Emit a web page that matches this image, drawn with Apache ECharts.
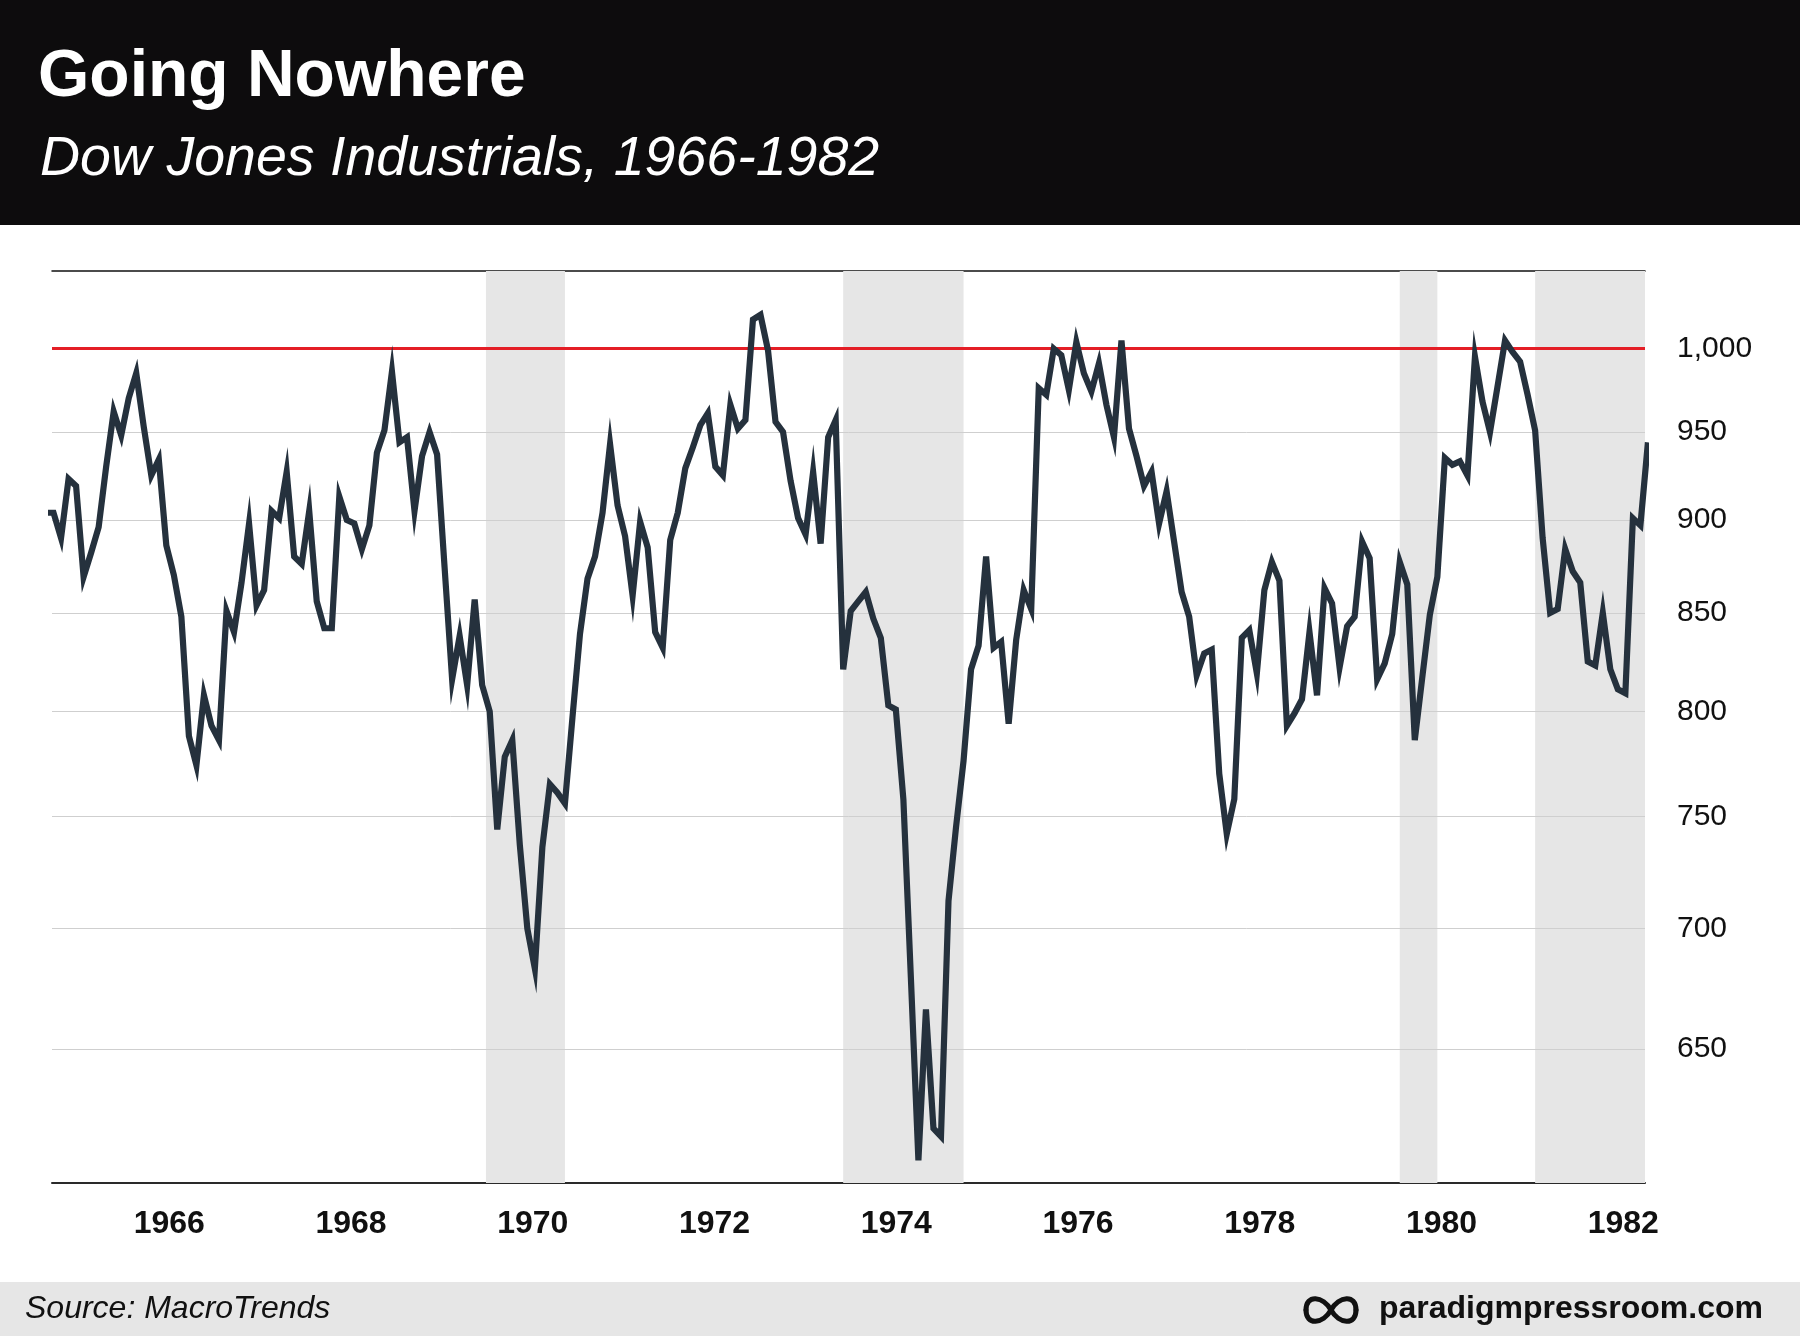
<!DOCTYPE html>
<html>
<head>
<meta charset="utf-8">
<script src="https://cdn.jsdelivr.net/npm/echarts@6/dist/echarts.min.js"></script>
<style>
html,body{margin:0;padding:0;background:#ffffff;}
#chart{width:1800px;height:1336px;}
</style>
</head>
<body>
<div id="chart"></div>
<script>
// ---------- texts ----------
const titleText = 'Going Nowhere';
const subtitleText = 'Dow Jones Industrials, 1966-1982';
const sourceText = 'Source: MacroTrends';
const siteText = 'paradigmpressroom.com';

// ---------- data: Dow Jones monthly closes, first value = Jan 1965 ----------
const startYear = 1965;
const closes1965to1969 = [
  904, 904, 890, 923, 919, 869, 882, 896, 930, 962, 948, 970,
  985, 953, 925, 934, 886, 870, 848, 788, 774, 808, 793, 786,
  851, 840, 866, 898, 854, 862, 905, 901, 927, 880, 876, 905,
  856, 842, 842, 913, 900, 898, 884, 897, 938, 951, 986, 944,
  947, 905, 936, 950, 937, 874, 816, 838, 813, 857, 813, 800
];
const closes1970to1974 = [
  744, 778, 786, 737, 700, 683, 736, 765, 761, 756, 797, 839,
  868, 880, 904, 943, 908, 891, 859, 899, 885, 840, 832, 889,
  904, 929, 941, 954, 961, 930, 925, 966, 952, 957, 1018, 1021,
  999, 956, 950, 922, 901, 892, 927, 887, 947, 957, 821, 851,
  856, 861, 847, 837, 803, 801, 758, 679, 607, 666, 619, 616
];
const closes1975to1979 = [
  712, 745, 776, 821, 833, 880, 832, 835, 794, 836, 862, 852,
  976, 972, 1000, 996, 975, 1004, 985, 974, 991, 966, 947, 1005,
  952, 936, 919, 927, 898, 916, 888, 861, 848, 818, 829, 831,
  770, 742, 758, 837, 841, 819, 862, 877, 867, 793, 799, 806,
  840, 808, 863, 855, 822, 843, 848, 888, 879, 816, 824, 839
];
const closes1980to1982 = [
  877, 865, 786, 817, 849, 869, 935, 931, 933, 925, 995, 968,
  950, 977, 1005, 998, 992, 972, 951, 890, 850, 852, 884, 872,
  866, 825, 823, 850, 821, 811, 809, 901, 897, 944
];

// recession periods (decimal years, start / end)
const recessions = [
  [1969.875, 1970.75],
  [1973.833, 1975.167],
  [1980.0, 1980.417],
  [1981.5, 1982.917]
];

const yTickValues = [650, 700, 750, 800, 850, 900, 950, 1000];
const referenceLevel = 1000;
const xTickYears = [1966, 1968, 1970, 1972, 1974, 1976, 1978, 1980, 1982];

// ---------- build ----------
const closes = [].concat(closes1965to1969, closes1970to1974, closes1975to1979, closes1980to1982);
const seriesData = closes.map((v, i) => [startYear + i / 12, v]);

const X_MIN = 1965.0665, X_MAX = 1982.7175;
const FONT = '"Liberation Sans", Arial, Helvetica, sans-serif';

const chart = echarts.init(document.getElementById('chart'), null, {renderer: 'canvas'});

function curve(x1, y1, c1x, c1y, c2x, c2y, x2, y2) {
  return {
    type: 'bezierCurve',
    shape: {x1: x1, y1: y1, cpx1: c1x, cpy1: c1y, cpx2: c2x, cpy2: c2y, x2: x2, y2: y2},
    style: {stroke: '#111111', lineWidth: 5, fill: null, lineCap: 'round'},
    silent: true
  };
}
const cx = 1331, cy = 1310, hw = 25, hh = 15;
const infinity = [
  curve(cx, cy, cx + 8, cy - hh + 1, cx + hw, cy - hh - 1, cx + hw, cy),
  curve(cx, cy, cx + 8, cy + hh - 1, cx + hw, cy + hh + 1, cx + hw, cy),
  curve(cx, cy, cx - 8, cy - hh + 1, cx - hw, cy - hh - 1, cx - hw, cy),
  curve(cx, cy, cx - 8, cy + hh - 1, cx - hw, cy + hh + 1, cx - hw, cy)
];

const option = {
  backgroundColor: '#ffffff',
  animation: false,
  grid: {left: 52, right: 155, top: 271, bottom: 153, containLabel: false},
  xAxis: [
    { // data axis (bottom line)
      type: 'value', min: X_MIN, max: X_MAX, position: 'bottom',
      axisLine: {show: true, onZero: false, lineStyle: {color: '#2a2a2a', width: 2}},
      axisTick: {show: false}, axisLabel: {show: false}, splitLine: {show: false}
    },
    { // year labels
      type: 'value', min: 1964.7092, max: 1982.2388, position: 'bottom',
      axisLine: {show: false, onZero: false}, axisTick: {show: false}, splitLine: {show: false},
      axisLabel: {
        show: true, customValues: xTickYears, formatter: v => String(v),
        fontFamily: FONT, fontWeight: 'bold', fontSize: 32, color: '#111111',
        verticalAlign: 'middle', margin: 41
      }
    },
    { // top frame line
      type: 'value', min: X_MIN, max: X_MAX, position: 'top',
      axisLine: {show: true, onZero: false, lineStyle: {color: '#111111', width: 1.5}},
      axisTick: {show: false}, axisLabel: {show: false}, splitLine: {show: false}
    }
  ],
  yAxis: {
    type: 'log', logBase: 10, min: 598.6, max: 1048.9, position: 'right',
    axisLine: {show: false}, axisTick: {show: false}, axisLabel: {show: false}, splitLine: {show: false}
  },
  series: [{
    type: 'line',
    xAxisIndex: 0, yAxisIndex: 0,
    data: seriesData,
    showSymbol: false, symbol: 'none',
    clip: true, z: 3,
    lineStyle: {color: '#25313d', width: 6.2, join: 'miter'},
    markArea: {
      silent: true, z: 1,
      itemStyle: {color: '#e6e6e6'},
      data: recessions.map(r => [{xAxis: r[0]}, {xAxis: Math.min(r[1], X_MAX)}])
    },
    markLine: {
      silent: true, z: 2, symbol: ['none', 'none'], animation: false,
      lineStyle: {color: '#cfcfcf', width: 1, type: 'solid'},
      label: {
        show: true, position: 'end', distance: 32,
        formatter: p => Number(p.value).toLocaleString('en-US'),
        fontFamily: FONT, fontSize: 30, color: '#111111'
      },
      emphasis: {disabled: true},
      data: yTickValues.map(v => v === referenceLevel
        ? {yAxis: v, lineStyle: {color: '#e41e26', width: 3, type: 'solid'}}
        : {yAxis: v})
    }
  }],
  graphic: [
    {type: 'rect', shape: {x: 0, y: 0, width: 1800, height: 225}, style: {fill: '#0d0c0d'}, silent: true},
    {type: 'text', x: 38, y: 78, silent: true,
     style: {text: titleText, font: 'bold 66px ' + FONT, fill: '#ffffff', align: 'left', verticalAlign: 'middle', textAlign: 'left', textVerticalAlign: 'middle'}},
    {type: 'text', x: 40, y: 160, silent: true,
     style: {text: subtitleText, font: 'italic 55.5px ' + FONT, fill: '#ffffff', align: 'left', verticalAlign: 'middle', textAlign: 'left', textVerticalAlign: 'middle'}},
    {type: 'rect', shape: {x: 0, y: 1282, width: 1800, height: 54}, style: {fill: '#e6e6e6'}, silent: true},
    {type: 'text', x: 25, y: 1309, silent: true,
     style: {text: sourceText, font: 'italic 32px ' + FONT, fill: '#111111', align: 'left', verticalAlign: 'middle', textAlign: 'left', textVerticalAlign: 'middle'}},
    {type: 'text', x: 1763, y: 1309, silent: true,
     style: {text: siteText, font: 'bold 32px ' + FONT, fill: '#111111', align: 'right', verticalAlign: 'middle', textAlign: 'right', textVerticalAlign: 'middle'}}
  ].concat(infinity)
};

chart.setOption(option);
</script>
</body>
</html>
